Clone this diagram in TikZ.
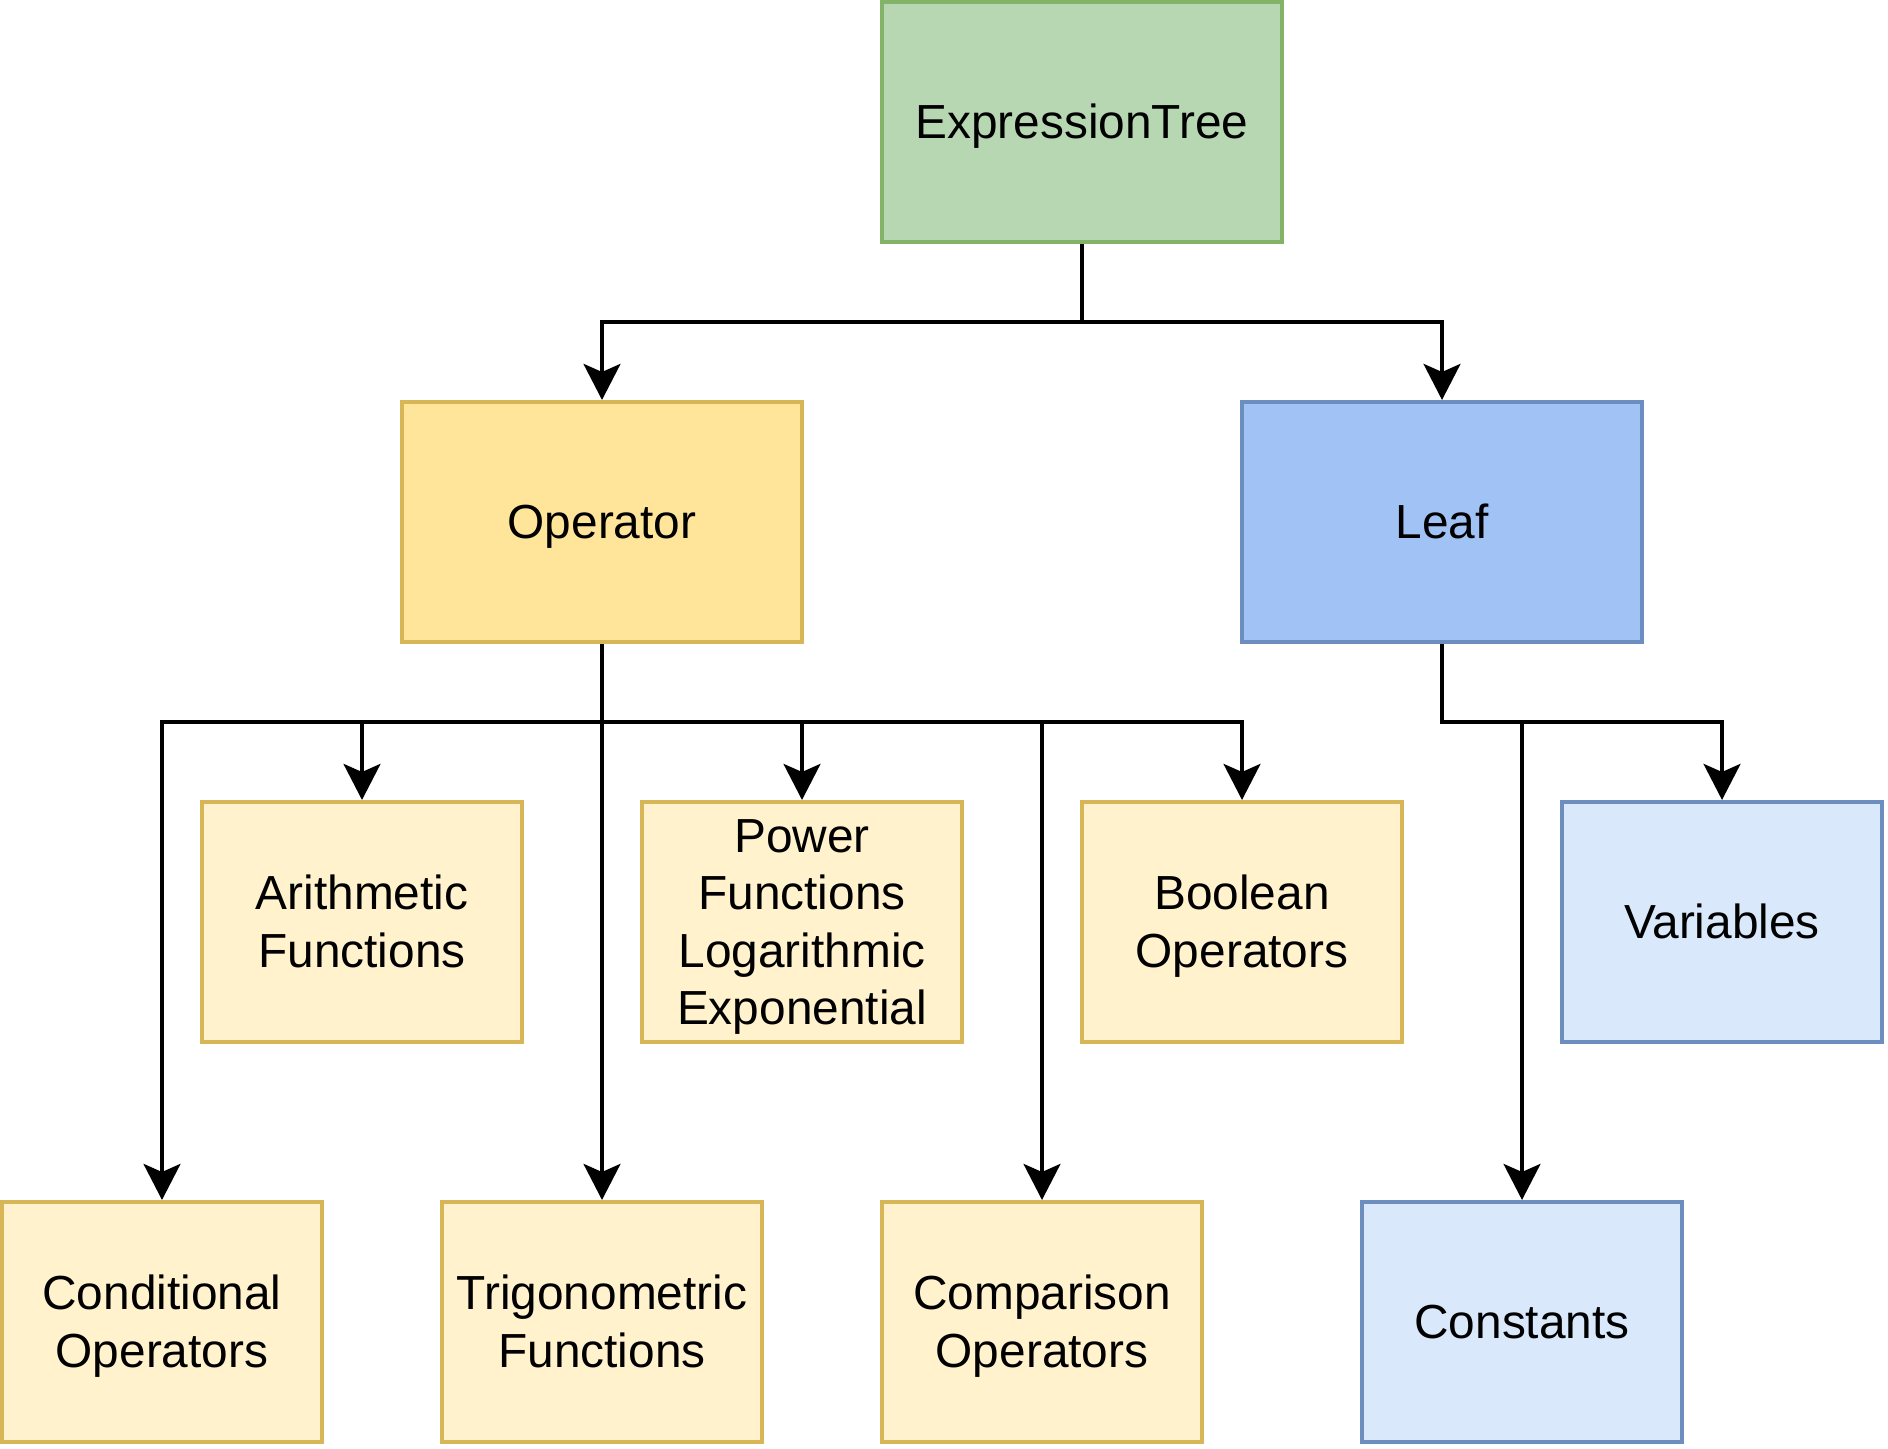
\documentclass[tikz,border=0pt]{standalone}
\usepackage{fontspec}
\setmainfont{Liberation Sans}
\usetikzlibrary{arrows.meta,positioning}
\definecolor{rootfill}{RGB}{183,215,179}
\definecolor{rootline}{RGB}{130,179,102}
\definecolor{opfill}{RGB}{255,229,153}
\definecolor{opsub}{RGB}{255,242,204}
\definecolor{opline}{RGB}{214,182,86}
\definecolor{leaffill}{RGB}{160,194,245}
\definecolor{leafsub}{RGB}{218,232,252}
\definecolor{leafline}{RGB}{108,142,191}
\newcommand{\ls}{\rule[-0.25em]{0pt}{1.19em}}
\tikzstyle{arrow} = [line width=0.05cm,-{Stealth[length=0.45cm,width=0.46cm,inset=0.1cm]}]
\tikzstyle{box} = [rectangle, line width=0.05cm, inner sep=0pt, align=center, text centered, font=\fontsize{17}{20.5}\selectfont]
\tikzstyle{bigbox} = [box, minimum width=5cm, minimum height=3cm]
\tikzstyle{smallbox} = [box, minimum width=4cm, minimum height=3cm]
\begin{document}
\begin{tikzpicture}[x=0.025cm,y=-0.025cm]
	\useasboundingbox (-1,-1) rectangle (943,723);
	% top and second level
	\node[bigbox,fill=rootfill,draw=rootline](et) at (540,60){\ls ExpressionTree\ls};
	\node[bigbox,fill=opfill,draw=opline](op) at (300,260){\ls Operator\ls};
	\node[bigbox,fill=leaffill,draw=leafline](leaf) at (720,260){\ls Leaf\ls};
	% children
	\node[smallbox,fill=opsub,draw=opline](arith) at (180,460){\ls Arithmetic\\Functions\ls};
	\node[smallbox,fill=opsub,draw=opline](pow) at (400,460){\ls Power\\Functions\\Logarithmic\\Exponential\ls};
	\node[smallbox,fill=opsub,draw=opline](bool) at (620,460){\ls Boolean\\Operators\ls};
	\node[smallbox,fill=leafsub,draw=leafline](var) at (860,460){\ls Variables\ls};
	\node[smallbox,fill=opsub,draw=opline](cond) at (80,660){\ls Conditional\\Operators\ls};
	\node[smallbox,fill=opsub,draw=opline](trig) at (300,660){\ls Trigonometric\\Functions\ls};
	\node[smallbox,fill=opsub,draw=opline](comp) at (520,660){\ls Comparison\\Operators\ls};
	\node[smallbox,fill=leafsub,draw=leafline](const) at (760,660){\ls Constants\ls};
	% bus points
	\coordinate (b_1) at (540,160);
	\coordinate (b_2) at (300,360);
	\coordinate (b_3) at (720,360);
	\draw[arrow] (et.south) -- (b_1) -| (op.north);
	\draw[arrow] (b_1) -| (leaf.north);
	\draw[arrow] (op.south) -- (trig.north);
	\draw[arrow] (b_2) -| (cond.north);
	\draw[arrow] (b_2) -| (arith.north);
	\draw[arrow] (b_2) -| (pow.north);
	\draw[arrow] (b_2) -| (comp.north);
	\draw[arrow] (b_2) -| (bool.north);
	\draw[arrow] (leaf.south) -- (b_3) -| (var.north);
	\draw[arrow] (b_3) -| (const.north);
\end{tikzpicture}
\end{document}
